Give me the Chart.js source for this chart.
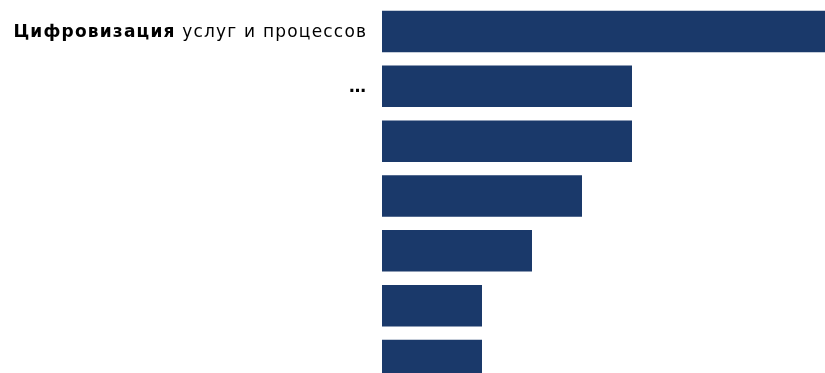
<!DOCTYPE html>
<html>
<head>
<meta charset="utf-8">
<script src="https://cdn.jsdelivr.net/npm/chart.js@4/dist/chart.umd.min.js"></script>
<style>
    html, body { margin: 0; padding: 0; background: #fff; overflow: hidden; }
    #wrap { position: relative; width: 832px; height: 388px; }
</style>
</head>
<body>
<div id="wrap"><canvas id="bars"></canvas></div>
<script>
// Bar data (top to bottom)
const categories = ['Цифровизация услуг и процессов', '…', '', '', '', '', ''];
const boldParts = ['Цифровизация', '…', '', '', '', '', ''];
const values = [9, 5, 5, 4, 3, 2, 2];

const barColor = '#1a396a';
const labelFont = '"DejaVu Sans", sans-serif';
const labelSize = 17;
const labelSpacing = 1.2;

// Draws the category labels with a bold lead word
const labelPlugin = {
    id: 'mixedLabels',
    afterDraw(chart) {
        const ctx = chart.ctx;
        const yScale = chart.scales.y;
        const right = 366;
        ctx.save();
        ctx.fillStyle = '#000';
        ctx.textBaseline = 'middle';
        ctx.textAlign = 'left';
        ctx.letterSpacing = labelSpacing + 'px';
        categories.forEach((label, i) => {
            if (!label) return;
            const y = yScale.getPixelForValue(i) + 1;
            const bold = boldParts[i];
            const rest = label.slice(bold.length);
            ctx.font = labelSize + 'px ' + labelFont;
            const restWidth = ctx.measureText(rest).width;
            ctx.font = 'bold ' + labelSize + 'px ' + labelFont;
            const boldWidth = ctx.measureText(bold).width;
            const start = right - restWidth - boldWidth + labelSpacing;
            ctx.fillText(bold, start, y);
            ctx.font = labelSize + 'px ' + labelFont;
            ctx.fillText(rest, start + boldWidth, y);
        });
        ctx.restore();
    }
};

const ctx = document.getElementById('bars').getContext('2d');
const chart = new Chart(ctx, {
    type: 'bar',
    data: {
        labels: categories,
        datasets: [{
            data: values,
            backgroundColor: barColor,
            borderWidth: 0,
            barPercentage: 0.85,
            categoryPercentage: 0.89
        }]
    },
    options: {
        indexAxis: 'y',
        responsive: true,
        maintainAspectRatio: false,
        animation: false,
        layout: { padding: { top: 4, right: 0, bottom: 0, left: 0 } },
        scales: {
            x: {
                min: 0,
                max: 9,
                display: false
            },
            y: {
                grid: { display: false },
                border: { display: false },
                ticks: { display: false },
                afterFit: function(scale) {
                    scale.width = 382;
                }
            }
        },
        plugins: {
            legend: { display: false },
            tooltip: { enabled: false }
        }
    },
    plugins: [labelPlugin]
});
</script>
</body>
</html>
